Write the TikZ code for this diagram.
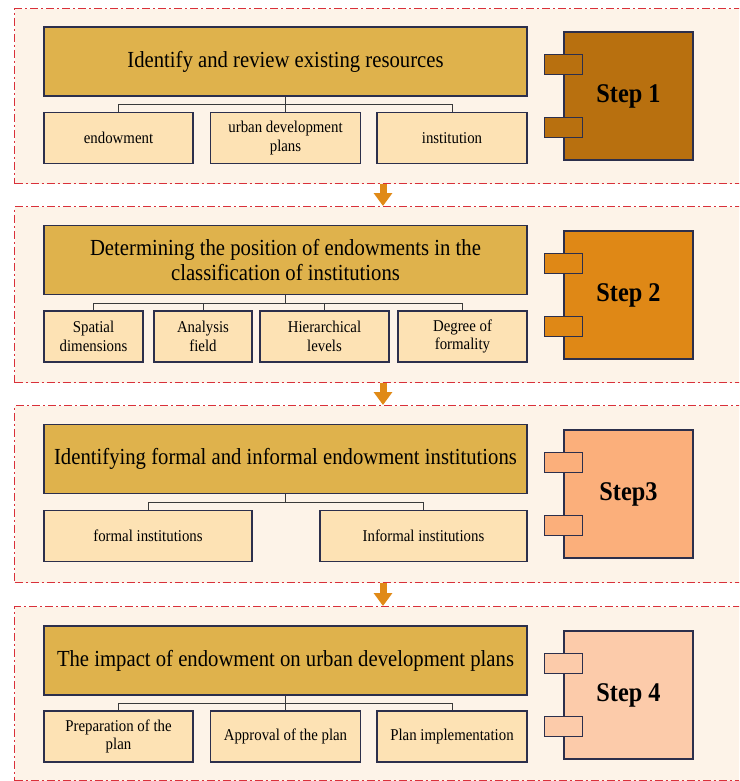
\documentclass[tikz,border=0pt]{standalone}
\usepackage{fontspec}
\setmainfont{Liberation Serif}[FakeStretch=0.9]
\usetikzlibrary{arrows.meta,positioning}
\definecolor{framebg}{HTML}{FDF3E8}
\definecolor{framered}{HTML}{D9303A}
\definecolor{boxline}{HTML}{2C2F4C}
\definecolor{mainfill}{HTML}{DFB24C}
\definecolor{subfill}{HTML}{FDE2B4}
\definecolor{connline}{HTML}{3A3A3A}
\definecolor{flowor}{HTML}{E08A17}
\definecolor{stepA}{HTML}{B8700F}
\definecolor{stepB}{HTML}{DF8816}
\definecolor{stepC}{HTML}{FBAF7B}
\definecolor{stepD}{HTML}{FCCBAA}

\begin{document}
\begin{tikzpicture}[
    x=1pt, y=1pt,
    mainbox/.style={draw=boxline, fill=mainfill, line width=1.2pt,
                    minimum width=483pt, minimum height=69pt, inner sep=2pt,
                    align=center, font=\fontsize{23}{24.5}\selectfont},
    subbox/.style={draw=boxline, fill=subfill, line width=1.2pt,
                   minimum height=51pt, inner sep=1pt,
                   align=center, font=\fontsize{16.5}{18.5}\selectfont},
    stepbox/.style={draw=boxline, line width=1.2pt, minimum width=129pt,
                    minimum height=128pt, font=\fontsize{27}{28}\selectfont\bfseries},
    tab/.style={draw=boxline, line width=1.2pt, minimum width=38pt,
                minimum height=20pt, inner sep=0pt},
    frame/.style={draw=framered, fill=framebg, line width=1.3pt,
                  dash pattern=on 8pt off 3pt on 2pt off 3pt,
                  minimum width=780pt, inner sep=0pt, anchor=north west},
    conn/.style={draw=connline, line width=0.9pt},
    flow/.style={draw=flowor, line width=7pt, -{Triangle[width=18pt,length=13pt]}},
]
  \useasboundingbox (0,0) rectangle (739,-781);
  \clip (0,0) rectangle (739,-781);

  % Frames
  \node[frame, minimum height=175pt] (f1) at (14,-8) {};
  \node[frame, minimum height=176pt] (f2) at (14,-206) {};
  \node[frame, minimum height=177pt] (f3) at (14,-405) {};
  \node[frame, minimum height=174pt] (f4) at (14,-606) {};
  \coordinate (ax) at (383,0);

  % Flow arrows
  \draw[flow] (f1.south -| ax) -- (f2.north -| ax);
  \draw[flow] (f2.south -| ax) -- (f3.north -| ax);
  \draw[flow] (f3.south -| ax) -- (f4.north -| ax);

  % Step 1
  \node[mainbox] (m1) at (285.5,-61.5) {Identify and review existing resources};
  \node[subbox,minimum width=149pt] (s11) at (118.5,-138) {endowment};
  \node[subbox,minimum width=150pt] (s12) at (285.5,-138) {urban development\\plans};
  \node[subbox,minimum width=150pt] (s13) at (452,-138) {institution};
  \draw[conn] (m1.south) -- ++(0,-8) coordinate (b1);
  \draw[conn] (b1) -| (s11.north);
  \draw[conn] (b1) -| (s13.north);
  \draw[conn] (b1) -- (s12.north);
  \node[stepbox,fill=stepA] (st1) at (628.5,-96) {Step 1};
  \node[tab,fill=stepA] (t1a) at ([yshift=31.5pt]st1.west) {};
  \node[tab,fill=stepA] (t1b) at ([yshift=-31.5pt]st1.west) {};

  % Step 2
  \node[mainbox] (m2) at (285.5,-260) {Determining the position of endowments in the\\classification of institutions};
  \node[subbox,minimum width=99pt] (s21) at (93.5,-336.5) {Spatial\\dimensions};
  \node[subbox,minimum width=98pt] (s22) at (203,-336.5) {Analysis\\field};
  \node[subbox,minimum width=129pt] (s23) at (324.5,-336.5) {Hierarchical\\levels};
  \node[subbox,minimum width=129pt] (s24) at (462.5,-336.5) {Degree of\\formality};
  \draw[conn] (m2.south) -- ++(0,-8) coordinate (b2);
  \draw[conn] (b2) -| (s21.north);
  \draw[conn] (b2) -| (s24.north);
  \draw[conn] (s22.north) |- (b2);
  \draw[conn] (s23.north) |- (b2);
  \node[stepbox,fill=stepB] (st2) at (628.5,-295) {Step 2};
  \node[tab,fill=stepB] (t2a) at ([yshift=31.5pt]st2.west) {};
  \node[tab,fill=stepB] (t2b) at ([yshift=-31.5pt]st2.west) {};

  % Step 3
  \node[mainbox] (m3) at (285.5,-459) {Identifying formal and informal endowment institutions};
  \node[subbox,minimum width=208pt] (s31) at (148,-536) {formal institutions};
  \node[subbox,minimum width=207pt] (s32) at (423.5,-536) {Informal institutions};
  \draw[conn] (m3.south) -- ++(0,-8) coordinate (b3);
  \draw[conn] (b3) -| (s31.north);
  \draw[conn] (b3) -| (s32.north);
  \node[stepbox,fill=stepC] (st3) at (628.5,-494) {Step3};
  \node[tab,fill=stepC] (t3a) at ([yshift=31.5pt]st3.west) {};
  \node[tab,fill=stepC] (t3b) at ([yshift=-31.5pt]st3.west) {};

  % Step 4
  \node[mainbox] (m4) at (285.5,-660.5) {The impact of endowment on urban development plans};
  \node[subbox,minimum width=149pt] (s41) at (118.5,-736.5) {Preparation of the\\plan};
  \node[subbox,minimum width=150pt] (s42) at (285.5,-736.5) {Approval of the plan};
  \node[subbox,minimum width=150pt] (s43) at (452,-736.5) {Plan implementation};
  \draw[conn] (m4.south) -- ++(0,-8) coordinate (b4);
  \draw[conn] (b4) -| (s41.north);
  \draw[conn] (b4) -| (s43.north);
  \draw[conn] (b4) -- (s42.north);
  \node[stepbox,fill=stepD] (st4) at (628.5,-695) {Step 4};
  \node[tab,fill=stepD] (t4a) at ([yshift=31.5pt]st4.west) {};
  \node[tab,fill=stepD] (t4b) at ([yshift=-31.5pt]st4.west) {};
\end{tikzpicture}
\end{document}
